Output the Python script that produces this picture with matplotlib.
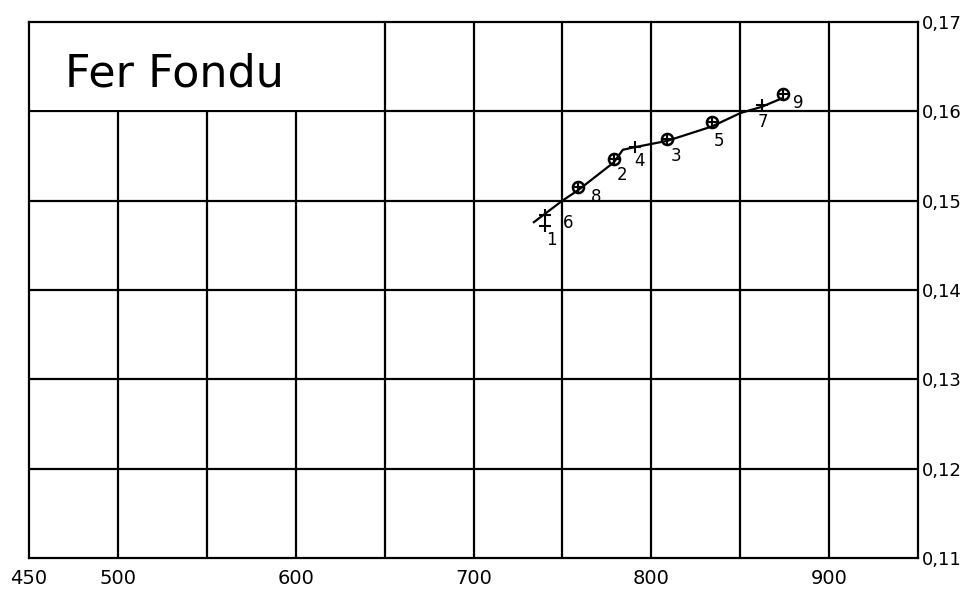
import matplotlib
matplotlib.use("Agg")
import matplotlib.pyplot as plt
from matplotlib.patches import Rectangle

# courbe tracée
courbe_x = [734, 750, 759, 779, 784, 791, 809, 834, 850, 862, 874]
courbe_y = [0.1476, 0.1500, 0.1512, 0.1543, 0.1557, 0.1560, 0.1567, 0.1583, 0.1598, 0.1605, 0.1615]

# points cerclés
cercle_x = [759, 779, 809, 834, 874]
cercle_y = [0.1515, 0.1547, 0.1569, 0.1588, 0.1619]

# points en croix seule
croix_x = [740, 740, 791, 862]
croix_y = [0.1484, 0.1472, 0.1560, 0.1607]

# numéros des essais
num = ['1', '6', '8', '2', '4', '3', '5', '7', '9']
num_x = [743.6, 753, 769, 783.5, 793.3, 813.8, 838.2, 862.9, 882.8]
num_y = [0.1456, 0.1475, 0.1504, 0.1529, 0.1544, 0.1550, 0.1567, 0.1588, 0.1609]

xticks = [450, 500, 600, 700, 800, 900]
yticks = [0.11, 0.12, 0.13, 0.14, 0.15, 0.16, 0.17]
ylabels = ['0,11', '0,12', '0,13', '0,14', '0,15', '0,16', '0,17']

fig = plt.figure(figsize=(9.71, 5.9), dpi=100)
ax = fig.add_axes([0.0299, 0.0542, 0.9155, 0.9085])
ax.set_xlim(450, 950)
ax.set_ylim(0.11, 0.17)

# quadrillage
for gx in range(500, 950, 50):
    ax.axvline(gx, color='black', lw=1.6, zorder=1)
for gy in yticks[1:-1]:
    ax.axhline(gy, color='black', lw=1.6, zorder=1)
for s in ax.spines.values():
    s.set_linewidth(1.6)

# cartouche du titre, sans quadrillage
ax.add_patch(Rectangle((451, 0.16012), 198, 0.00983, facecolor='white', edgecolor='none', zorder=2))
ax.text(470, 0.1642, 'Fer Fondu', fontsize=32, family='DejaVu Sans', va='center', ha='left', zorder=3)

ax.plot(courbe_x, courbe_y, color='black', lw=1.6, zorder=4)
ax.plot(cercle_x, cercle_y, 'o', ms=8, mfc='none', mec='black', mew=1.8, zorder=5)
ax.plot(cercle_x, cercle_y, '+', ms=9, color='black', mew=1.5, zorder=5)
ax.plot(croix_x, croix_y, '+', ms=9, color='black', mew=1.5, zorder=5)
for t, tx, ty in zip(num, num_x, num_y):
    ax.text(tx, ty, t, fontsize=12, ha='center', va='center', zorder=6)

ax.set_xticks(xticks)
ax.set_xticklabels([str(v) for v in xticks], fontsize=14)
ax.tick_params(axis='x', length=0, pad=8)
ax.yaxis.tick_right()
ax.set_yticks(yticks)
ax.set_yticklabels(ylabels, fontsize=13)
ax.tick_params(axis='y', length=0, pad=3)

fig.savefig('out.png', dpi=100)
